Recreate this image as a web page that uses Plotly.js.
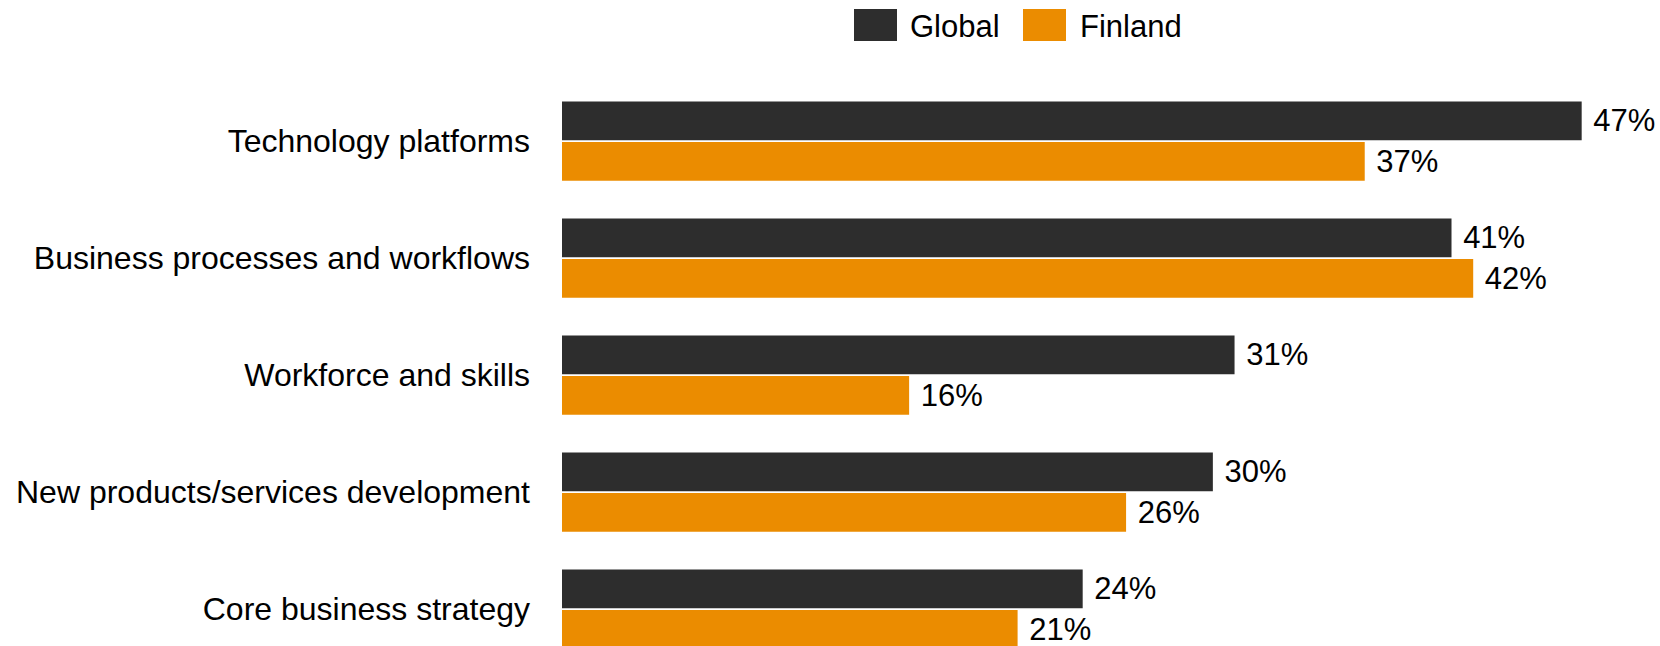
<!DOCTYPE html>
<html>
<head>
<meta charset="utf-8">
<script src="https://cdn.plot.ly/plotly-3.0.1.min.js"></script>
<style>html,body{margin:0;padding:0;background:#fff;}#chart{width:1660px;height:646px;}</style>
</head>
<body>
<div id="chart"></div>
<script>
const categories = ["Technology platforms", "Business processes and workflows", "Workforce and skills", "New products/services development", "Core business strategy"];
const seriesNames = ["Global", "Finland"];
const globalValues = [47, 41, 31, 30, 24];
const finlandValues = [37, 42, 16, 26, 21];
const colors = ["#2d2d2d", "#eb8c00"];

const FONT = "Liberation Sans, Arial, sans-serif";
const FS = 31;

function mk(name, vals, color) {
  return {
    type: "bar", orientation: "h", name: name,
    y: categories, x: vals,
    marker: {color: color, line: {width: 0}},
    text: vals.map(v => "\u00a0" + v + "%"),
    textposition: "outside",
    textfont: {family: FONT, size: FS, color: "#000"},
    constraintext: "none",
    cliponaxis: false,
    hoverinfo: "none"
  };
}

const data = [mk(seriesNames[0], globalValues, colors[0]), mk(seriesNames[1], finlandValues, colors[1])];

const W = 1660, H = 646, L = 562, T = 59, B = 0, R = 0;
const pw = W - L - R, ph = H - T - B;
const px = x => (x - L) / pw;
const py = y => (H - B - y) / ph;

const layout = {
  width: W, height: H,
  margin: {l: L, r: R, t: T, b: B, pad: 0},
  paper_bgcolor: "#fff", plot_bgcolor: "#fff",
  showlegend: false,
  barmode: "group", bargap: 0.3065, bargroupgap: 0.042,
  font: {family: FONT, size: FS, color: "#000"},
  xaxis: {range: [0, 50.61], visible: false, fixedrange: true},
  yaxis: {
    type: "category", categoryorder: "array", categoryarray: categories,
    range: [4.315, -0.702],
    showgrid: false, zeroline: false, showline: false, ticks: "",
    ticklabelstandoff: 31,
    tickfont: {family: FONT, size: 32, color: "#000"}
  },
  shapes: [
    {type: "rect", xref: "paper", yref: "paper", x0: px(854), x1: px(897), y0: py(41), y1: py(9), fillcolor: colors[0], line: {width: 0}},
    {type: "rect", xref: "paper", yref: "paper", x0: px(1023), x1: px(1066), y0: py(41), y1: py(9), fillcolor: colors[1], line: {width: 0}}
  ],
  annotations: [
    {xref: "paper", yref: "paper", x: px(908), y: py(26), xanchor: "left", yanchor: "middle", text: seriesNames[0], showarrow: false, font: {family: FONT, size: FS, color: "#000"}},
    {xref: "paper", yref: "paper", x: px(1078), y: py(26), xanchor: "left", yanchor: "middle", text: seriesNames[1], showarrow: false, font: {family: FONT, size: FS, color: "#000"}}
  ]
};

Plotly.newPlot("chart", data, layout, {displayModeBar: false, staticPlot: true});
</script>
</body>
</html>
